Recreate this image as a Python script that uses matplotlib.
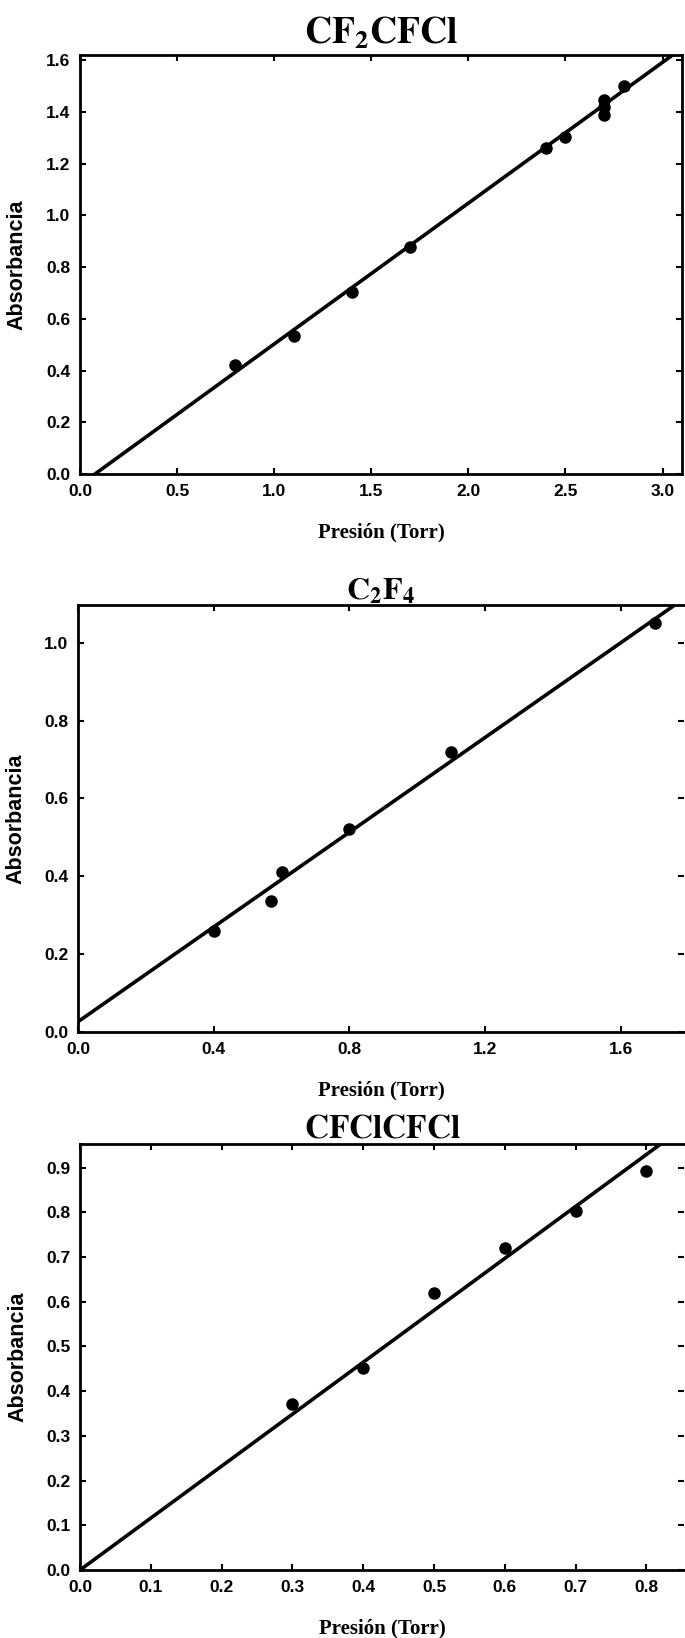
import numpy as np
import matplotlib
matplotlib.use('Agg')
import matplotlib.pyplot as plt

plt.rcParams['mathtext.fontset'] = 'stix'

# ---- data ----
# CF2CFCl
p1_pres = [0.8, 1.1, 1.4, 1.7, 2.4, 2.5, 2.7, 2.7, 2.7, 2.8]
p1_abs = [0.42, 0.535, 0.705, 0.878, 1.261, 1.304, 1.387, 1.42, 1.445, 1.50]
p1_slope, p1_icpt = 0.5446, -0.042
p1_xticks = [0.0, 0.5, 1.0, 1.5, 2.0, 2.5, 3.0]
p1_yticks = [0.0, 0.2, 0.4, 0.6, 0.8, 1.0, 1.2, 1.4, 1.6]

# C2F4
p2_pres = [0.4, 0.57, 0.6, 0.8, 1.1, 1.7]
p2_abs = [0.26, 0.337, 0.412, 0.521, 0.72, 1.05]
p2_slope, p2_icpt = 0.6086, 0.0265
p2_xticks = [0.0, 0.4, 0.8, 1.2, 1.6]
p2_yticks = [0.0, 0.2, 0.4, 0.6, 0.8, 1.0]

# CFClCFCl
p3_pres = [0.3, 0.4, 0.5, 0.6, 0.7, 0.8]
p3_abs = [0.371, 0.453, 0.62, 0.721, 0.802, 0.893]
p3_slope, p3_icpt = 1.162, 0.0
p3_xticks = [0.0, 0.1, 0.2, 0.3, 0.4, 0.5, 0.6, 0.7, 0.8]
p3_yticks = [0.0, 0.1, 0.2, 0.3, 0.4, 0.5, 0.6, 0.7, 0.8, 0.9]

W, H = 685, 1638
fig = plt.figure(figsize=(W / 100, H / 100), dpi=100)


def px_rect(left, top, right, bottom):
    # pixel box (from top-left) -> figure fraction rect
    return [left / W, 1 - bottom / H, (right - left) / W, (bottom - top) / H]


def panel(rect, pres, absb, slope, icpt, xlim, ylim, xticks, yticks, title, tsize, tpad, right_spine):
    ax = fig.add_axes(rect)
    ax.plot(pres, absb, 'o', color='black', markersize=8, zorder=3)
    xs = np.array(xlim)
    ax.plot(xs, slope * xs + icpt, color='black', lw=2.6, zorder=2)
    ax.set_xlim(xlim)
    ax.set_ylim(ylim)
    ax.set_xticks(xticks)
    ax.set_yticks(yticks)
    ax.set_xticklabels(['%.1f' % t for t in xticks])
    ax.set_yticklabels(['%.1f' % t for t in yticks])
    ax.tick_params(direction='in', length=4, width=1.5, top=True, right=True, pad=7,
                   labelsize=12.5)
    for lab in ax.get_xticklabels() + ax.get_yticklabels():
        lab.set_fontfamily('Liberation Sans')
        lab.set_fontweight('bold')
    for s in ax.spines.values():
        s.set_linewidth(2)
    if not right_spine:
        ax.spines['right'].set_visible(False)
    ax.set_title(title, fontsize=tsize, pad=tpad)
    ax.set_xlabel('Presión (Torr)', family='Liberation Serif', weight='bold', fontsize=15, labelpad=17)
    ax.set_ylabel('Absorbancia', family='Liberation Sans', weight='bold', fontsize=15.5, labelpad=13)
    return ax


panel(px_rect(80, 55, 682, 474), p1_pres, p1_abs, p1_slope, p1_icpt,
      (0, 3.1), (0, 1.62), p1_xticks, p1_yticks, r'$\mathbf{CF_2CFCl}$', 27, 8, True)
panel(px_rect(78, 605, 684, 1032), p2_pres, p2_abs, p2_slope, p2_icpt,
      (0, 1.786), (0, 1.097), p2_xticks, p2_yticks, r'$\mathbf{C_2F_4}$', 23, 4, False)
panel(px_rect(80, 1144, 684, 1570), p3_pres, p3_abs, p3_slope, p3_icpt,
      (0, 0.853), (0, 0.953), p3_xticks, p3_yticks, r'$\mathbf{CFClCFCl}$', 24, 5, False)

fig.savefig('out.png', dpi=100, facecolor='white')
